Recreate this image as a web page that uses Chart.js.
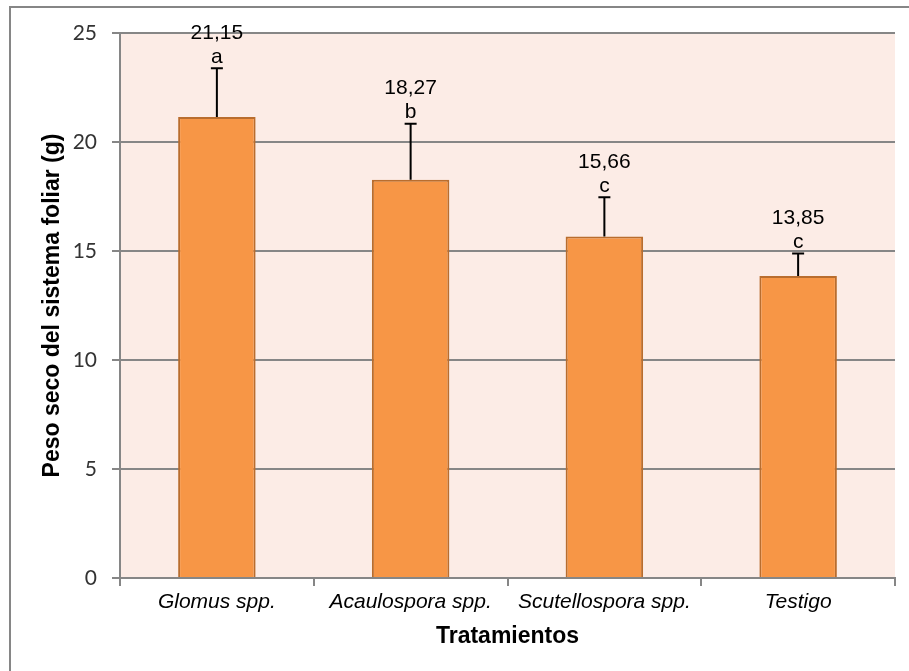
<!DOCTYPE html>
<html>
<head>
<meta charset="utf-8">
<script src="https://cdn.jsdelivr.net/npm/chart.js@4"></script>
<style>
  html, body { margin: 0; padding: 0; background: #fff; }
  #wrap { width: 909px; height: 671px; }
</style>
</head>
<body>
<div id="wrap"><canvas id="barChart" width="909" height="671"></canvas></div>
<script>
const tratamientos = ["Glomus spp.", "Acaulospora spp.", "Scutellospora spp.", "Testigo"];
const pesoSeco = [21.15, 18.27, 15.66, 13.85];
const errorEstandar = [2.23, 2.57, 1.80, 1.03];
const letras = ["a", "b", "c", "c"];
const yTicks = [0, 5, 10, 15, 20, 25];

const gris = "#868686";

// fondo del area de trazado y marco exterior
const fondo = {
  id: "fondo",
  beforeDraw(chart) {
    const { ctx, chartArea: a } = chart;
    ctx.save();
    ctx.fillStyle = "#fcece6";
    ctx.fillRect(a.left, a.top, a.right - a.left, a.bottom - a.top);
    ctx.strokeStyle = gris;
    ctx.lineWidth = 2;
    ctx.strokeRect(10, 7, 1000, 1000);
    ctx.restore();
  }
};

// barras de error (solo hacia arriba) con valor y letra encima
const errores = {
  id: "errores",
  afterDatasetsDraw(chart) {
    const { ctx, scales: { y } } = chart;
    const meta = chart.getDatasetMeta(0);
    ctx.save();
    meta.data.forEach((bar, i) => {
      const x = bar.x;
      const top = y.getPixelForValue(pesoSeco[i] + errorEstandar[i]);
      ctx.strokeStyle = "#000";
      ctx.lineWidth = 2;
      ctx.beginPath();
      ctx.moveTo(x, bar.y);
      ctx.lineTo(x, top);
      ctx.moveTo(x - 6, top);
      ctx.lineTo(x + 6, top);
      ctx.stroke();

      ctx.fillStyle = "#000";
      ctx.textAlign = "center";
      ctx.textBaseline = "middle";
      ctx.font = "21px 'Liberation Sans', Arial, sans-serif";
      ctx.fillText(letras[i], x, top - 11);
      ctx.fillText(pesoSeco[i].toFixed(2).replace(".", ","), x, top - 35);
    });
    ctx.restore();
  }
};

window.chart = new Chart(document.getElementById("barChart"), {
  type: "bar",
  data: {
    labels: tratamientos,
    datasets: [
      {
        data: pesoSeco,
        backgroundColor: "#f79646",
        borderColor: "#b96d2e",
        borderWidth: 2,
        barPercentage: 0.4,
        categoryPercentage: 1
      }
    ]
  },
  options: {
    responsive: false,
    animation: false,
    layout: { padding: { left: 10, top: 33, right: 14, bottom: 0 } },
    plugins: {
      legend: { display: false },
      tooltip: { enabled: false }
    },
    scales: {
      x: {
        afterFit: (s) => { s.height = 93; },
        grid: {
          offset: true,
          drawOnChartArea: false,
          color: gris,
          lineWidth: 2,
          tickLength: 8
        },
        border: { color: gris, width: 2 },
        ticks: {
          color: "#000",
          padding: 4,
          font: { family: "'Liberation Sans', Arial, sans-serif", size: 21, style: "italic" }
        },
        title: {
          display: true,
          text: "Tratamientos",
          color: "#000",
          padding: { top: 0, bottom: 21 },
          font: { family: "'Liberation Sans', Arial, sans-serif", size: 23, weight: "bold" }
        }
      },
      y: {
        min: 0,
        max: 25,
        afterFit: (s) => { s.width = 110; },
        afterBuildTicks: (s) => { s.ticks = yTicks.map((v) => ({ value: v })); },
        grid: {
          color: gris,
          lineWidth: 2,
          tickLength: 8
        },
        border: { color: gris, width: 2 },
        ticks: {
          color: "#333",
          padding: 15,
          font: { family: "Lato, 'Open Sans', sans-serif", size: 21 }
        },
        title: {
          display: true,
          text: "Peso seco del sistema foliar (g)",
          color: "#000",
          padding: { top: 29, bottom: 0 },
          font: { family: "'Liberation Sans', Arial, sans-serif", size: 23, weight: "bold" }
        }
      }
    }
  },
  plugins: [fondo, errores]
});
</script>
</body>
</html>
